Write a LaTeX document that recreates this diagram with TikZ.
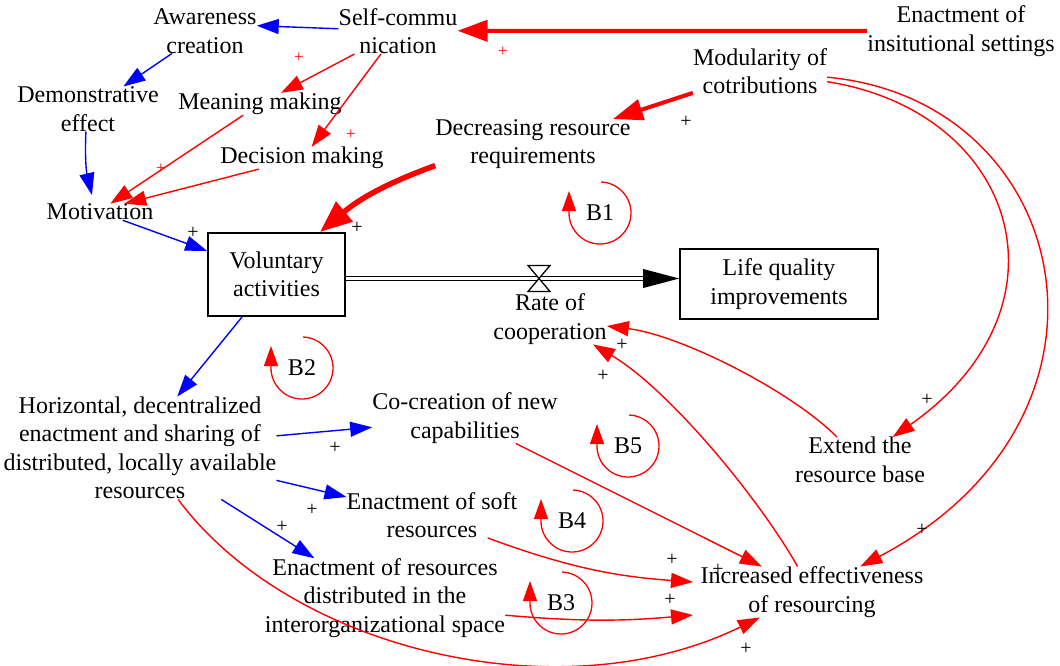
\documentclass[tikz,border=0pt]{standalone}
\usepackage{fontspec}
\setmainfont{Liberation Serif}
\usetikzlibrary{arrows.meta}
\begin{document}
\begin{tikzpicture}[x=1pt,y=1pt,
  lbl/.style={align=center, inner sep=0pt, font=\fontsize{24}{28.5}\selectfont},
  stockbox/.style={draw, line width=1.6pt, align=center, inner sep=0pt,
    font=\fontsize{24}{28.5}\selectfont},
  sgn/.style={inner sep=0pt, font=\fontsize{20}{20}\selectfont},
  redsgn/.style={inner sep=0pt, red, font=\fontsize{17}{17}\selectfont},
  lnk/.style={line width=1.4pt, -{Triangle[length=22pt,width=15pt]}},
  heavy/.style={line width=4pt, -{Triangle[length=30pt,width=21pt]}},
  heavier/.style={line width=5.5pt, -{Triangle[length=32pt,width=25pt]}},
  redlink/.style={lnk, red},
  bluelink/.style={lnk, blue},
  looparc/.style={red, line width=1.3pt, -{Triangle[length=20pt,width=14pt]}}
]
\useasboundingbox (0,0) rectangle (1060,-666);

% variables
\node[lbl] (aware)   at (205,-31)  {Awareness\\creation};
\node[lbl] (selfc)   at (398,-31)  {Self-commu\\nication};
\node[lbl] (enact)   at (961,-31)  {Enactment of\\insitutional settings};
\node[lbl] (modul)   at (760,-71)  {Modularity of\\cotributions};
\node[lbl] (demo)    at (88,-109)  {Demonstrative\\effect};
\node[lbl] (meaning) at (260,-104) {Meaning making};
\node[lbl] (decr)    at (533,-144) {Decreasing resource\\requirements};
\node[lbl] (decis)   at (302,-158) {Decision making};
\node[lbl] (motiv)   at (100,-212) {Motivation};
\node[stockbox, minimum width=137pt, minimum height=83pt] (vol) at (276.5,-274.5) {Voluntary\\activities};
\node[stockbox, minimum width=198pt, minimum height=70pt] (life) at (779,-284) {Life quality\\improvements};
\node[lbl] (rate)    at (550,-319) {Rate of\\cooperation};
\node[lbl] (horiz)   at (140,-448) {Horizontal, decentralized\\enactment and sharing of\\distributed, locally available\\resources};
\node[lbl] (cocr)    at (465,-418) {Co-creation of new\\capabilities};
\node[lbl] (extend)  at (860,-460) {Extend the\\resource base};
\node[lbl] (soft)    at (432,-515) {Enactment of soft\\resources};
\node[lbl] (distr)   at (385,-598) {Enactment of resources\\distributed in the\\interorganizational space};
\node[lbl] (incr)    at (812,-592) {Increased effectiveness\\of resourcing};

% flow pipe with valve
\coordinate (valve) at (539,-278.5);
\coordinate (pipeend) at ([shift={(-33,5.5)}]life.west);
\draw[double, double distance=3.5pt, line width=1.1pt] ([yshift=-4]vol.east) -- (pipeend);
\fill ([yshift=5.5]life.west) -- ++(-36,9.5) -- ++(0,-19) -- cycle;
\draw[fill=white, line width=1.3pt] ([shift={(-11,13)}]valve) -- ([shift={(11,13)}]valve) -- (valve) -- cycle;
\draw[fill=white, line width=1.3pt] ([shift={(-11,-13)}]valve) -- ([shift={(11,-13)}]valve) -- (valve) -- cycle;

% causal links
\draw[bluelink] ([shift={(-56,14)}]selfc) -- ([shift={(57,11)}]aware);
\draw[bluelink] ([shift={(-40,-29)}]aware) -- ([shift={(45,29)}]demo);
\draw[redlink] ([shift={(-55,-29)}]selfc) -- ([shift={(23,17)}]meaning);
\draw[redlink] ([shift={(-13,-31)}]selfc) -- ([shift={(16,15)}]decis);
\draw[bluelink] ([shift={(-10,-29)}]demo) to[bend right=8] ([shift={(-8,17)}]motiv);
\draw[redlink] ([shift={(-45,-16)}]meaning) -- ([shift={(20,17)}]motiv);
\draw[redlink] ([shift={(-85,-14)}]decis) -- ([shift={(42,19)}]motiv);
\draw[heavy, red] ([shift={(-68,2)}]enact) -- ([shift={(77,1)}]selfc);
\draw[heavy, red] ([shift={(-70,-24)}]modul) -- ([shift={(107,32)}]decr);
\draw[heavier, red] ([shift={(-96,-19)}]decr) to[bend right=10] ([shift={(43.5,42.5)}]vol);
\draw[bluelink] ([shift={(37,-15)}]motiv) -- ([shift={(-64.5,17.5)}]vol);
\draw[bluelink] ([shift={(-41.5,-42.5)}]vol) -- ([shift={(37,58)}]horiz);
\draw[bluelink] ([shift={(145,12)}]horiz) -- ([shift={(-103,-7)}]cocr);
\draw[bluelink] ([shift={(145,-36)}]horiz) -- ([shift={(-92,18)}]soft);
\draw[bluelink] ([shift={(78,-56)}]horiz) -- ([shift={(-87,43)}]distr);
\draw[redlink] ([shift={(42,-55)}]horiz) .. controls +(108,-147) and +(-200,-95) .. ([shift={(-52,-28)}]incr);
\draw[redlink] ([shift={(55,-26)}]cocr) -- ([shift={(-57,30)}]incr);
\draw[redlink] ([shift={(80,-30)}]soft) to[bend right=8] ([shift={(-119,10)}]incr);
\draw[redlink] ([shift={(127,-22)}]distr) to[bend right=5] ([shift={(-119,-23)}]incr);
\draw[redlink] ([shift={(-15,34)}]incr) .. controls +(-37,58) and +(75,-42) .. ([shift={(45,-29)}]rate);
\draw[redlink] ([shift={(-32,23)}]extend) .. controls +(-38,47) and +(78,-12) .. ([shift={(52,-4)}]rate);
\draw[redlink] ([shift={(78,-1)}]modul) .. controls +(180,-40) and +(160,125) .. ([shift={(58,28)}]extend);
\draw[redlink] ([shift={(78,-1)}]modul) .. controls +(236,-28) and +(234,145) .. ([shift={(98,30)}]incr);

% balancing loop markers
\newcommand\bloop[3]{%
  \node[lbl] (#1) at (#2) {#3};
  \draw[looparc] ([shift={(88:31)}]#1.center) arc[start angle=88, end angle=-180, radius=31] -- ++(0,22);
}
\bloop{b1}{600,-213}{B1}
\bloop{b2}{302,-368}{B2}
\bloop{b5}{628,-446}{B5}
\bloop{b4}{572,-521}{B4}
\bloop{b3}{561,-603}{B3}

% polarity signs
\node[redsgn] (s1) at (503,-52)  {+};
\node[redsgn] (s2) at (299,-58)  {+};
\node[redsgn] (s3) at (351,-135) {+};
\node[redsgn] (s4) at (161,-169) {+};
\node[sgn] (s5)  at (686,-122) {+};
\node[sgn] (s6)  at (357,-228) {+};
\node[sgn] (s7)  at (193,-233) {+};
\node[sgn] (s8)  at (335,-448) {+};
\node[sgn] (s9)  at (312,-510) {+};
\node[sgn] (s10) at (282,-527) {+};
\node[sgn] (s11) at (622,-345) {+};
\node[sgn] (s12) at (603,-376) {+};
\node[sgn] (s13) at (927,-400) {+};
\node[sgn] (s14) at (922,-530) {+};
\node[sgn] (s15) at (672,-560) {+};
\node[sgn] (s16) at (670,-600) {+};
\node[sgn] (s17) at (718,-570) {+};
\node[sgn] (s18) at (746,-649) {+};
\end{tikzpicture}
\end{document}
